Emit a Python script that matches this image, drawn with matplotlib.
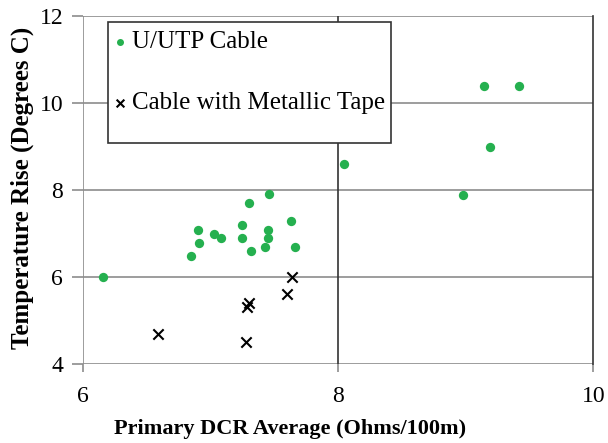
import matplotlib
matplotlib.use("Agg")
import matplotlib.pyplot as plt
from matplotlib.patches import Rectangle

plt.rcParams['font.family'] = ['Liberation Serif', 'DejaVu Serif']

utp_x = [6.16, 6.85, 6.90, 6.91, 7.03, 7.08, 7.25, 7.25, 7.30, 7.32, 7.46, 7.45, 7.45, 7.43,
         7.63, 7.66, 8.05, 9.14, 9.42, 9.19, 8.98]
utp_y = [6.0, 6.47, 7.07, 6.78, 6.99, 6.88, 7.18, 6.88, 7.69, 6.58, 7.89, 7.07, 6.88, 6.67,
         7.28, 6.67, 8.58, 10.39, 10.39, 8.99, 7.88]

tape_x = [6.59, 7.30, 7.29, 7.28, 7.60, 7.64]
tape_y = [4.69, 5.39, 5.30, 4.50, 5.59, 5.99]

xticks = [6, 8, 10]
yticks = [4, 6, 8, 10, 12]

green = '#25b04f'

fig = plt.figure(figsize=(6.08, 4.43), dpi=100)
ax = fig.add_axes([0.136, 0.179, 0.840, 0.786])

ax.set_xlim(6, 10)
ax.set_ylim(4, 12)
ax.set_xticks(xticks)
ax.set_yticks(yticks)

for y in yticks:
    ax.axhline(y, color='#8c8c8c', lw=1.2, zorder=1)
ax.axvline(8, color='#333333', lw=1.2, zorder=1)

for s in ['top', 'left', 'bottom']:
    ax.spines[s].set_visible(False)
ax.spines['right'].set_color('#333333')
ax.spines['right'].set_linewidth(1.2)
ax.axvline(6, color='#8c8c8c', lw=1.2, zorder=1)

ax.tick_params(axis='y', length=8, width=1.2, color='#8c8c8c', labelsize=17, pad=6)
ax.tick_params(axis='x', length=6, width=1.2, color='#8c8c8c', labelsize=17, pad=10)

ax.scatter(utp_x, utp_y, s=45, color=green, marker='o', linewidths=0, zorder=3,
           label='U/UTP Cable')
ax.scatter(tape_x, tape_y, s=55, color='black', marker='x', linewidths=1.5, zorder=3,
           label='Cable with Metallic Tape')

ax.set_xlabel('Primary DCR Average (Ohms/100m)', fontsize=16, fontweight='bold')
ax.xaxis.set_label_coords(0.406, -0.16)
ax.set_ylabel('Temperature Rise (Degrees C)', fontsize=18, fontweight='bold')
ax.yaxis.set_label_coords(-0.095, 0.506)

# legend box
rect = Rectangle((108 / 608, 1 - 143 / 443), (391 - 108) / 608, (143 - 22) / 443,
                 transform=fig.transFigure, facecolor='white', edgecolor='#333333',
                 lw=1.2, zorder=5)
fig.patches.append(rect)

leg = fig.legend(loc='upper left', bbox_to_anchor=(92 / 608, 1 - 11 / 443),
                 frameon=False, fontsize=18, labelspacing=1.53, handletextpad=0.2,
                 handlelength=0.6, markerscale=0.75, borderpad=0.3)
leg.set_zorder(6)

fig.savefig('out.png', dpi=100)
